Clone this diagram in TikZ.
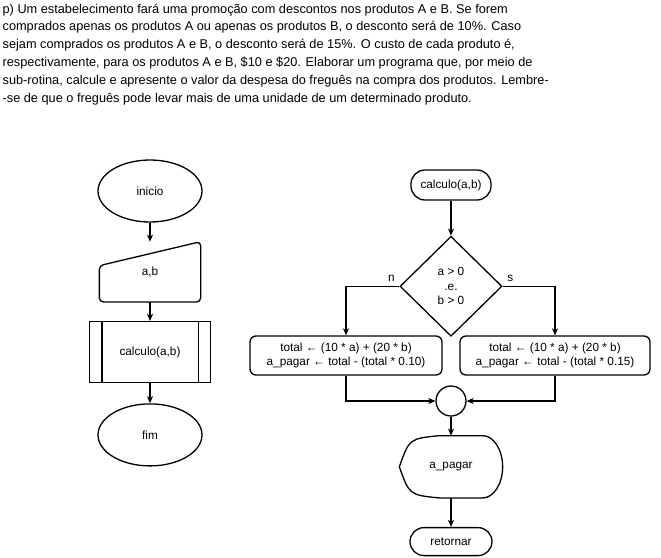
\documentclass[tikz,border=0pt]{standalone}
\usepackage{fontspec}
\setmainfont{Liberation Sans}
\usetikzlibrary{shapes.geometric, arrows.meta, positioning}

\begin{document}
\begin{tikzpicture}[
    x=1pt, y=-1pt,
    line width=1.3pt,
    font=\fontsize{11.8}{14.5}\selectfont,
    terminal/.style={ellipse, draw, minimum width=104pt, minimum height=62pt},
    startstop/.style={rectangle, draw, rounded corners=14pt, minimum width=80pt, minimum height=30pt},
    process/.style={rectangle, draw, rounded corners=6pt, minimum height=39pt, align=center, inner sep=2pt},
    decision/.style={diamond, draw, minimum width=102pt, minimum height=100pt, inner sep=0pt, align=center},
    shapebox/.style={rectangle, minimum width=#1, minimum height=59pt, inner sep=0pt},
    arrow/.style={-{Stealth[length=7pt, width=6pt, inset=2pt]}},
]
    \fill[white] (0,0) rectangle (661,557);
    \useasboundingbox (0,0) rectangle (661,557);

    % Enunciado
    \node[anchor=north west, align=left, inner sep=0pt, font=\fontsize{12.75}{17.8}\selectfont] (enunciado) at (2,3) {p) Um estabelecimento fará uma promoção com descontos nos produtos A e B. Se forem\\
comprados apenas os produtos A ou apenas os produtos B, o desconto será de 10\%. Caso\\
sejam comprados os produtos A e B, o desconto será de 15\%. O custo de cada produto é,\\
respectivamente, para os produtos A e B, \$10 e \$20. Elaborar um programa que, por meio de\\
sub-rotina, calcule e apresente o valor da despesa do freguês na compra dos produtos. Lembre-\\
-se de que o freguês pode levar mais de uma unidade de um determinado produto.};

    % Programa principal
    \node[terminal] (inicio) at (150,191) {inicio};
    \node[shapebox=100pt, below=19pt of inicio] (entrada) {a,b};
    \draw[rounded corners=4pt] (entrada.south west) -- ([yshift=-24pt]entrada.north west) -- (entrada.north east) -- (entrada.south east) -- cycle;
    \node[rectangle, draw, minimum width=121pt, minimum height=61pt, below=19pt of entrada] (chamada) {calculo(a,b)};
    \draw ([xshift=13pt]chamada.north west) -- ([xshift=13pt]chamada.south west);
    \draw ([xshift=-13pt]chamada.north east) -- ([xshift=-13pt]chamada.south east);
    \node[terminal, below=20pt of chamada] (fim) {fim};

    \draw[arrow] (inicio) -- (entrada);
    \draw[arrow] (entrada) -- (chamada);
    \draw[arrow] (chamada) -- (fim);

    % Sub-rotina
    \node[startstop] (rotina) at (451,185) {calculo(a,b)};
    \node[decision, below=35pt of rotina] (teste) {a > 0\\.e.\\b > 0};
    \node[process, minimum width=192pt] (semdesc) at (346,355.5) {total ← (10 * a) + (20 * b)\\a\_pagar ← total - (total * 0.10)};
    \node[process, minimum width=190pt] (comdesc) at (555,355.5) {total ← (10 * a) + (20 * b)\\a\_pagar ← total - (total * 0.15)};
    \node[circle, draw, minimum size=30pt, inner sep=0pt] (juncao) at (451,401) {};
    \node[shapebox=102pt, minimum height=61pt, below=19pt of juncao] (saida) {a\_pagar};
    \draw (saida.west) .. controls ([xshift=10pt, yshift=-3pt]saida.north west) .. ([xshift=40pt]saida.north west)
        -- ([xshift=-20pt]saida.north east)
        .. controls ([xshift=-9pt]saida.north east) and ([yshift=17pt]saida.east) .. (saida.east)
        .. controls ([yshift=-17pt]saida.east) and ([xshift=-9pt]saida.south east) .. ([xshift=-20pt]saida.south east)
        -- ([xshift=40pt]saida.south west)
        .. controls ([xshift=10pt, yshift=3pt]saida.south west) .. (saida.west);
    \node[startstop, minimum width=82pt, minimum height=28pt, below=29pt of saida] (retorno) {retornar};

    \draw[arrow] (rotina) -- (teste);
    \draw[arrow] (teste.west) node[above left=1pt] {n} -| (semdesc.north);
    \draw[arrow] (teste.east) node[above right=1pt] {s} -| (comdesc.north);
    \draw[arrow] (semdesc.south) |- (juncao.west);
    \draw[arrow] (comdesc.south) |- (juncao.east);
    \draw[arrow] (juncao) -- (saida);
    \draw[arrow] (saida) -- (retorno);
\end{tikzpicture}
\end{document}
